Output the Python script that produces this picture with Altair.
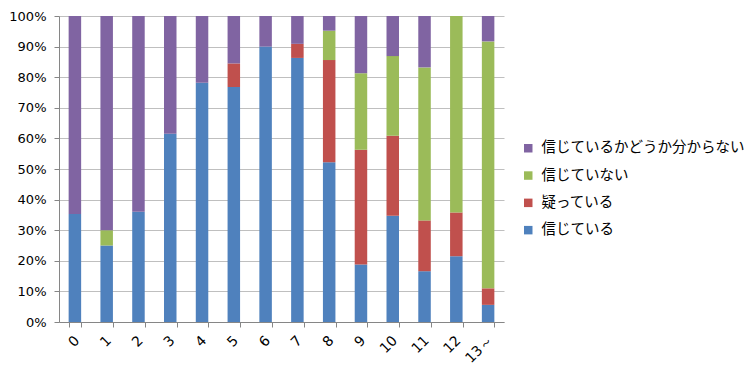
import altair as alt
import pandas as pd

categories = ["0", "1", "2", "3", "4", "5", "6", "7", "8", "9", "10", "11", "12", "13～"]
series = ["信じている", "疑っている", "信じていない", "信じているかどうか分からない"]
believe = [35.3, 25.0, 36.0, 61.5, 78.2, 76.8, 90.0, 86.3, 52.2, 18.8, 34.7, 16.6, 21.5, 5.6]
doubt = [0, 0, 0, 0, 0, 7.7, 0, 4.6, 33.4, 37.5, 26.2, 16.6, 14.3, 5.4]
not_believe = [0, 5.0, 0, 0, 0, 0, 0, 0, 9.6, 25.0, 26.0, 50.0, 64.2, 80.7]
unknown = [64.7, 70.0, 64.0, 38.5, 21.8, 15.5, 10.0, 9.1, 4.8, 18.7, 13.1, 16.8, 0, 8.3]
colors = ["#4F81BD", "#C0504D", "#9BBB59", "#8064A2"]

rows = []
for i, c in enumerate(categories):
    for k, vals in enumerate([believe, doubt, not_believe, unknown]):
        rows.append({"cat": c, "series": series[k], "value": vals[i], "ord": k})
df = pd.DataFrame(rows)

legend_order = series[::-1]
legend_colors = colors[::-1]

chart = alt.Chart(df).mark_bar(size=12.5).encode(
    x=alt.X("cat:N", sort=categories, title=None,
            scale=alt.Scale(paddingInner=0.6, paddingOuter=0.3),
            axis=alt.Axis(labelAngle=-45, labelAlign="right", labelBaseline="middle",
                          tickBand="extent", tickSize=5, tickColor="#868686",
                          domainColor="#868686", labelFontSize=14, labelColor="#000000",
                          labelFont="DejaVu Sans", labelPadding=11, labelOffset=2)),
    y=alt.Y("value:Q", stack="normalize", title=None,
            scale=alt.Scale(domain=[0, 1]),
            axis=alt.Axis(format=".0%", values=[i / 10 for i in range(11)], labelOverlap=False,
                          grid=True, gridColor="#BFBFBF", tickSize=5, tickColor="#868686",
                          domainColor="#868686", labelFontSize=13, labelColor="#000000",
                          labelFont="DejaVu Sans", labelPadding=8)),
    color=alt.Color("series:N", scale=alt.Scale(domain=legend_order, range=legend_colors),
                    legend=alt.Legend(title=None, orient="none", legendX=462, legendY=125,
                                      symbolType="square", symbolSize=72, symbolStrokeWidth=0,
                                      labelFontSize=14.5, labelFont="Noto Sans CJK JP",
                                      labelColor="#000000", rowPadding=12.3, labelOffset=6,
                                      labelLimit=300)),
    order=alt.Order("ord:Q", sort="ascending"),
).properties(
    width=445, height=306,
    autosize=alt.AutoSizeParams(type="none"),
    padding={"left": 51, "top": 8, "right": 244, "bottom": 48},
).configure_view(stroke=None)

chart.save("out.html", embed_options={"renderer": "svg", "actions": False})
